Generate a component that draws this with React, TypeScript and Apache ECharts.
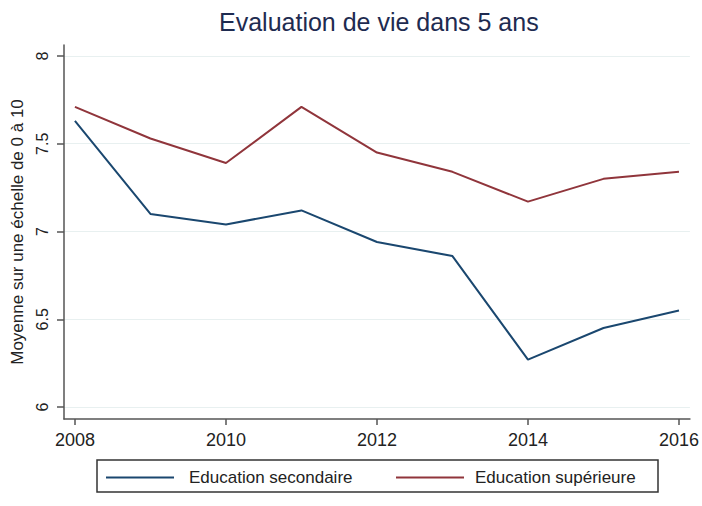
import React, { useEffect, useRef } from "react";
import * as echarts from "echarts";

const years = [2008, 2009, 2010, 2011, 2012, 2013, 2014, 2015, 2016];
const secondaire = [7.63, 7.1, 7.04, 7.12, 6.94, 6.86, 6.27, 6.45, 6.55];
const superieure = [7.71, 7.53, 7.39, 7.71, 7.45, 7.34, 7.17, 7.3, 7.34];
const xTicks = [2008, 2010, 2012, 2014, 2016];
const yTicks = [6, 6.5, 7, 7.5, 8];
const seriesNames = ["Education secondaire", "Education supérieure"];

const FONT = "'Liberation Sans', Arial, sans-serif";

export default function App() {
  const ref = useRef<HTMLDivElement>(null);
  useEffect(() => {
    if (!ref.current) return;
    const chart = echarts.init(ref.current, null, { renderer: "svg" });
    chart.setOption({
      animation: false,
      backgroundColor: "#ffffff",
      title: {
        text: "Evaluation de vie dans 5 ans",
        left: 219,
        top: 9,
        padding: 0,
        textStyle: { fontFamily: FONT, fontSize: 25, fontWeight: "normal", color: "#1e2b50" },
      },
      grid: { left: 64, right: 8, top: 45, bottom: 87, containLabel: false },
      xAxis: {
        type: "value",
        min: 2008 - 11 / 76,
        max: 2016 + 11 / 76,
        axisLine: { show: true, lineStyle: { color: "#555", width: 1.5 } },
        axisTick: { show: true, length: 6, customValues: xTicks, lineStyle: { color: "#555", width: 1.5 } },
        axisLabel: {
          customValues: xTicks,
          formatter: (v: number) => String(Math.round(v)),
          fontFamily: FONT,
          fontSize: 18,
          color: "#222",
          margin: 12,
        },
        splitLine: { show: false },
      },
      yAxis: {
        type: "value",
        min: 6 - 12 / 175.5,
        max: 8 + 11 / 175.5,
        name: "Moyenne sur une échelle de 0 à 10",
        nameLocation: "middle",
        nameGap: 35,
        nameTextStyle: { fontFamily: FONT, fontSize: 17, color: "#222" },
        axisLine: { show: true, lineStyle: { color: "#555", width: 1.5 } },
        axisTick: { show: true, length: 7, customValues: yTicks, lineStyle: { color: "#555", width: 1.5 } },
        axisLabel: {
          customValues: yTicks,
          rotate: 90,
          formatter: (v: number) => String(Math.round(v * 10) / 10),
          fontFamily: FONT,
          fontSize: 16,
          color: "#222",
          margin: 14,
        },
        splitLine: { show: true, lineStyle: { color: "#e8f0f0", width: 1.2 } },
      },
      legend: [
        {
          data: [seriesNames[0]],
          left: 105,
          top: 469,
          padding: 0,
          itemWidth: 68,
          itemHeight: 14,
          itemStyle: { opacity: 0, borderWidth: 0 },
          textStyle: { fontFamily: FONT, fontSize: 17, color: "#222", padding: [0, 0, 0, 10] },
        },
        {
          data: [seriesNames[1]],
          left: 395,
          top: 469,
          padding: 0,
          itemWidth: 68,
          itemHeight: 14,
          itemStyle: { opacity: 0, borderWidth: 0 },
          textStyle: { fontFamily: FONT, fontSize: 17, color: "#222", padding: [0, 0, 0, 6] },
        },
      ],
      graphic: [
        {
          type: "rect",
          shape: { x: 97, y: 460, width: 561, height: 32 },
          style: { fill: "none", stroke: "#333", lineWidth: 1.5 },
          silent: true,
        },
      ],
      series: [
        {
          name: seriesNames[0],
          type: "line",
          data: years.map((y, i) => [y, secondaire[i]]),
          symbol: "none",
          lineStyle: { color: "#1a476f", width: 2 },
          itemStyle: { color: "#1a476f" },
        },
        {
          name: seriesNames[1],
          type: "line",
          data: years.map((y, i) => [y, superieure[i]]),
          symbol: "none",
          lineStyle: { color: "#90353b", width: 2 },
          itemStyle: { color: "#90353b" },
        },
      ],
    });
    return () => chart.dispose();
  }, []);
  return <div ref={ref} style={{ position: "fixed", left: 0, top: 0, width: 702, height: 506 }} />;
}
